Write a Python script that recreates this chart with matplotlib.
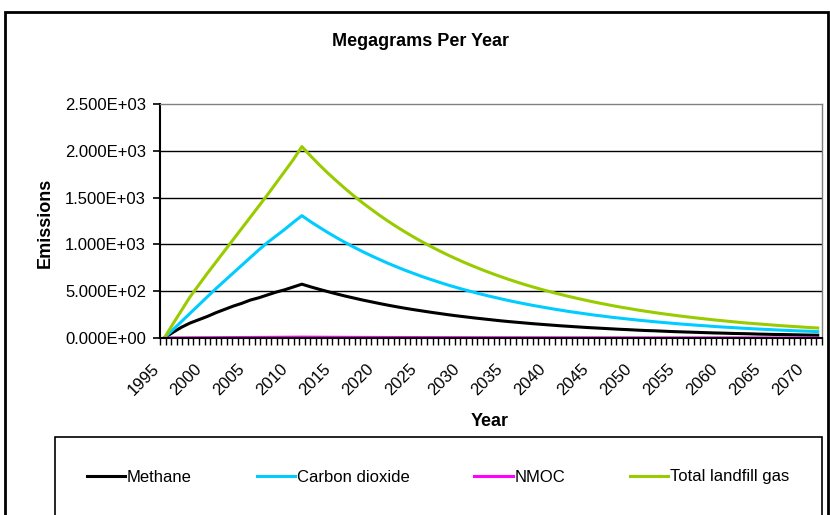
import matplotlib
matplotlib.use("Agg")
import matplotlib.pyplot as plt
from matplotlib.patches import Rectangle
from matplotlib.ticker import FixedLocator, FuncFormatter
from matplotlib.transforms import ScaledTranslation
import numpy as np

plt.rcParams['font.family'] = ['Liberation Sans', 'DejaVu Sans']

# landfill emissions, Mg/yr, one value per year 1995-2071
years = list(range(1995, 2072))

methane = [
    0, 60, 115, 160, 195, 230, 270, 305, 340, 370,
    405, 430, 460, 490, 515, 545, 575, 547, 521, 496,
    472, 449, 428, 407, 388, 369, 351, 334, 318, 303,
    289, 275, 262, 249, 237, 226, 215, 205, 195, 185,
    176, 168, 160, 152, 145, 138, 131, 125, 119, 113,
    108, 103, 98, 93, 89, 84, 80, 77, 73, 69,
    66, 63, 60, 57, 54, 52, 49, 47, 45, 42,
    40, 38, 37, 35, 33, 31, 30]

carbon_dioxide = [
    0, 88, 176, 264, 352, 440, 527, 610, 693, 776,
    859, 942, 1020, 1090, 1160, 1235, 1307, 1244, 1185, 1128,
    1074, 1022, 973, 926, 882, 840, 799, 761, 724, 690,
    656, 625, 595, 566, 539, 513, 489, 465, 443, 422,
    401, 382, 364, 346, 330, 314, 299, 284, 271, 258,
    245, 234, 222, 212, 202, 192, 183, 174, 166, 158,
    150, 143, 136, 130, 123, 117, 112, 106, 101, 96,
    92, 87, 83, 79, 75, 72, 68]

nmoc = [
    0, 0.7, 1.3, 2.0, 2.5, 3.1, 3.6, 4.2, 4.7, 5.3,
    5.8, 6.3, 6.9, 7.4, 8.0, 8.6, 9.2, 8.8, 8.3, 7.9,
    7.6, 7.2, 6.8, 6.5, 6.2, 5.9, 5.6, 5.4, 5.1, 4.9,
    4.6, 4.4, 4.2, 4.0, 3.8, 3.6, 3.4, 3.3, 3.1, 3.0,
    2.8, 2.7, 2.6, 2.4, 2.3, 2.2, 2.1, 2.0, 1.9, 1.8,
    1.7, 1.6, 1.6, 1.5, 1.4, 1.4, 1.3, 1.2, 1.2, 1.1,
    1.1, 1.0, 1.0, 0.9, 0.9, 0.8, 0.8, 0.7, 0.7, 0.7,
    0.6, 0.6, 0.6, 0.6, 0.5, 0.5, 0.5]

total_gas = [
    0, 150, 295, 440, 565, 690, 810, 930, 1050, 1170,
    1290, 1410, 1530, 1655, 1780, 1905, 2045, 1947, 1853, 1764,
    1680, 1599, 1522, 1449, 1380, 1313, 1250, 1190, 1133, 1079,
    1027, 978, 931, 886, 844, 803, 765, 728, 693, 660,
    628, 598, 569, 542, 516, 491, 468, 445, 424, 404,
    384, 366, 348, 331, 316, 300, 286, 272, 259, 247,
    235, 224, 213, 203, 193, 184, 175, 166, 158, 151,
    144, 137, 130, 124, 118, 112, 107]

series = [
    ("Methane", methane, "#000000"),
    ("Carbon dioxide", carbon_dioxide, "#00CCFF"),
    ("NMOC", nmoc, "#FF00FF"),
    ("Total landfill gas", total_gas, "#99CC00"),
]

W, H = 830, 515
fig = plt.figure(figsize=(W / 100, H / 100), dpi=100)
ax = fig.add_axes([160 / W, 1 - 338 / H, 662 / W, 234 / H])

x = np.arange(len(years))
for name, vals, col in series:
    ax.plot(x, vals, color=col, lw=2.2, label=name, solid_joinstyle="round")

ax.set_xlim(-0.5, len(years) - 0.5)
ax.set_ylim(0, 2500)

# y axis
ax.set_yticks([0, 500, 1000, 1500, 2000, 2500])
ax.yaxis.set_major_formatter(FuncFormatter(lambda v, p: "{:.3E}".format(v)))
ax.tick_params(axis="y", direction="out", length=5, width=1.2, labelsize=12, pad=5)
for v in [500, 1000, 1500, 2000]:
    ax.axhline(v, color="#000000", lw=1.0, zorder=0)

# x axis: labels every 5 years, small tick marks along the axis
ax.set_xticks(x[::5])
ax.set_xticklabels([str(y) for y in years[::5]], rotation=45, ha="right", va="top",
                   rotation_mode="anchor", fontsize=12)
ax.xaxis.set_minor_locator(FixedLocator(np.linspace(-0.5, len(years) - 0.5, 120)))
ax.tick_params(axis="x", which="major", length=0, pad=17)
ax.tick_params(axis="x", which="minor", direction="out", length=5, width=1.0)
shift = ScaledTranslation(-13 / 100, 0, fig.dpi_scale_trans)
for lbl in ax.get_xticklabels():
    lbl.set_transform(lbl.get_transform() + shift)

ax.spines["left"].set_linewidth(1.5)
ax.spines["bottom"].set_linewidth(1.5)
for s in ["top", "right"]:
    ax.spines[s].set_color("#808080")
    ax.spines[s].set_linewidth(1.0)

ax.set_ylabel("Emissions", fontsize=13, fontweight="bold")
ax.set_xlabel("Year", fontsize=13, fontweight="bold")
ax.xaxis.set_label_coords((490 - 160) / 662, -(413 - 338) / 234)
ax.yaxis.set_label_coords(-(160 - 54) / 662, (338 - 223) / 234)

fig.text(420 / W, 1 - 42 / H, "Megagrams Per Year", ha="center", va="center",
         fontsize=13, fontweight="bold")

# chart frame and legend box
fig.add_artist(Rectangle((5 / W, -0.1), 823 / W, 1.1 - 12 / H, transform=fig.transFigure,
                         fill=False, edgecolor="black", lw=2.0))
fig.add_artist(Rectangle((55 / W, -0.1), 767 / W, 0.1 + 1 - 437 / H, transform=fig.transFigure,
                         fill=False, edgecolor="black", lw=1.2))

handles, labels = ax.get_legend_handles_labels()
fig.legend(handles, labels, loc="center", bbox_to_anchor=(438 / W, 1 - 477 / H),
           ncol=4, frameon=False, fontsize=12, handlelength=2.3, handletextpad=0.1,
           columnspacing=3.9)

fig.savefig("out.png", dpi=100)
